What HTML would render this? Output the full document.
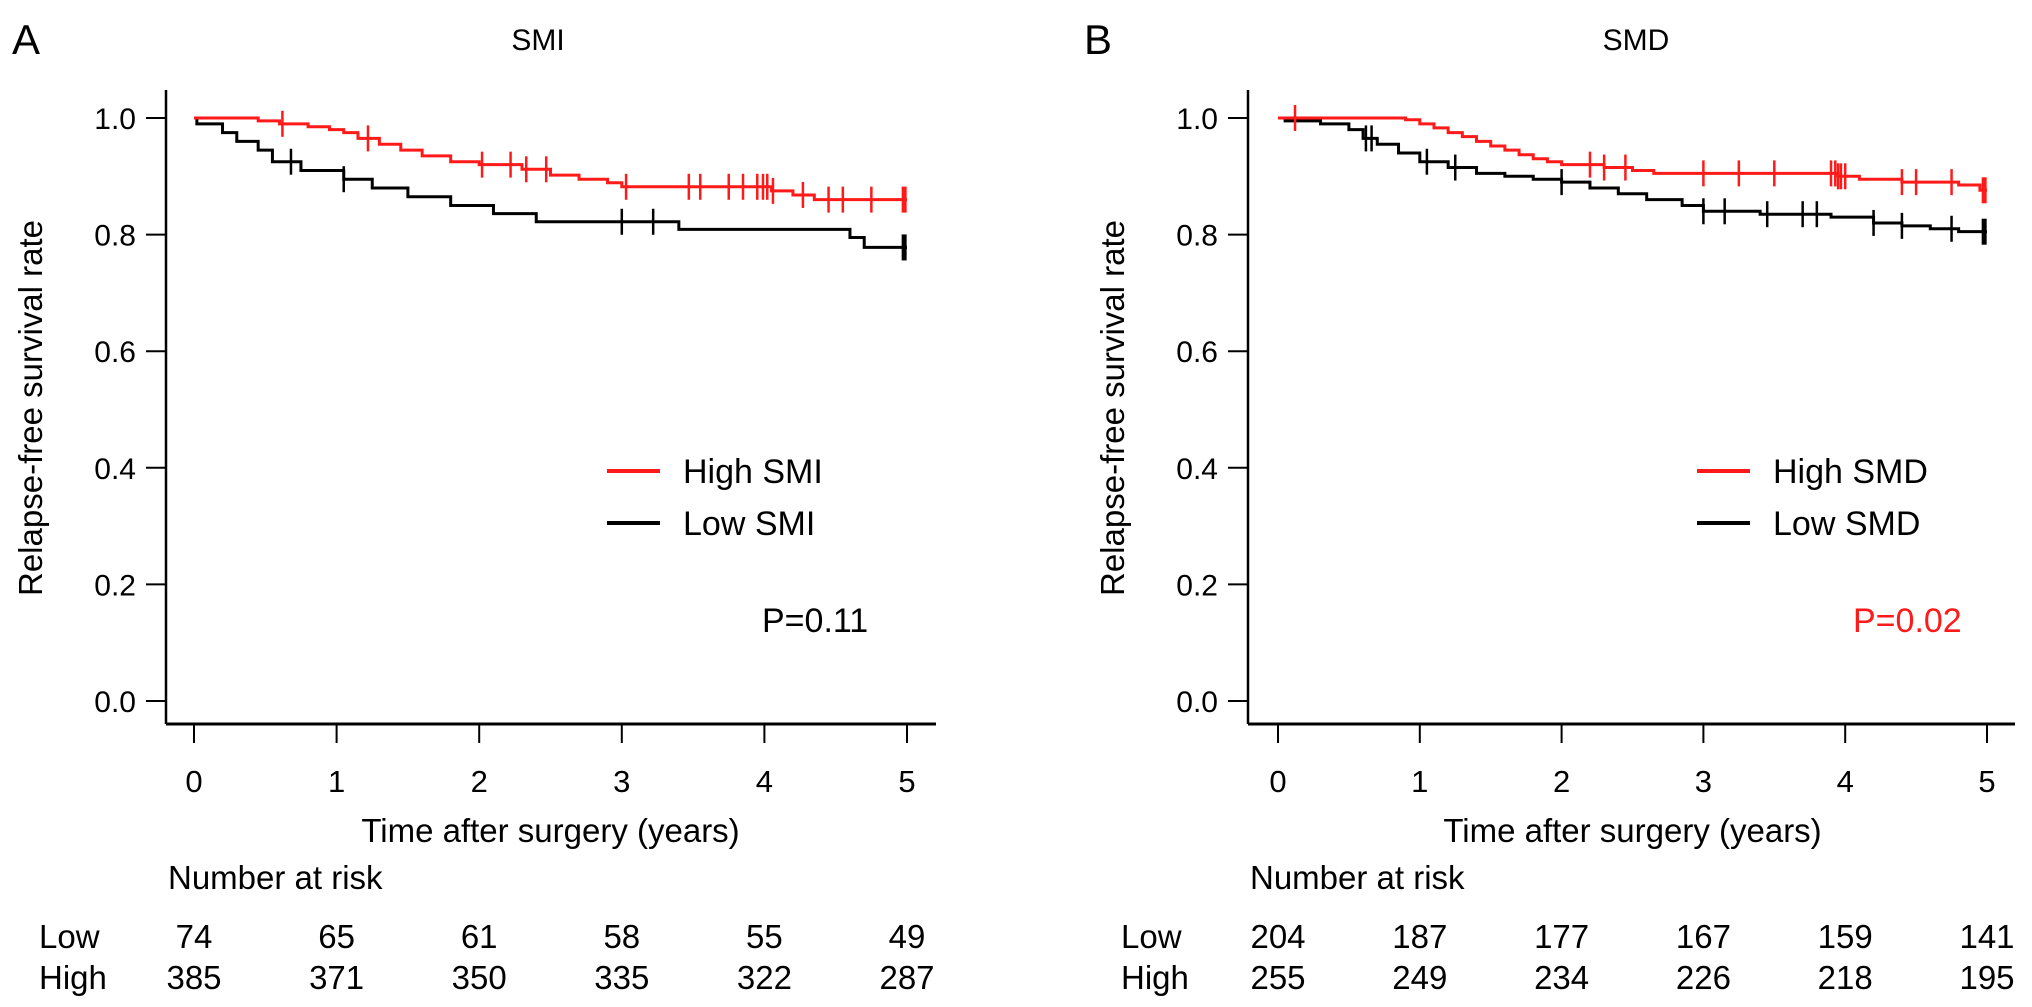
<!DOCTYPE html>
<html><head><meta charset="utf-8"><style>
html,body{margin:0;padding:0;background:#fff;}
svg{display:block;font-family:"Liberation Sans",Arial,sans-serif;}
</style></head><body>
<svg id="chart" width="2032" height="1007" viewBox="0 0 2032 1007" xmlns="http://www.w3.org/2000/svg"></svg>
<script>
// ---- data ----
const xTicks = [0,1,2,3,4,5];
const yTicks = [0.0,0.2,0.4,0.6,0.8,1.0];
// Panel A (SMI)
const aHighT = [0,0.45,0.6,0.8,0.95,1.05,1.15,1.3,1.45,1.6,1.8,2.0,2.3,2.5,2.7,2.9,3.0,4.05,4.2,4.35];
const aHighS = [1.0,0.995,0.99,0.985,0.98,0.975,0.965,0.955,0.945,0.935,0.925,0.92,0.912,0.902,0.895,0.889,0.882,0.875,0.868,0.86];
const aHighCens = [0.62,1.22,2.02,2.22,2.33,2.47,3.03,3.47,3.55,3.75,3.85,3.95,3.99,4.02,4.06,4.27,4.45,4.55,4.75,4.98];
const aLowT = [0,0.02,0.2,0.3,0.45,0.55,0.75,1.05,1.25,1.5,1.8,2.1,2.4,3.4,4.6,4.7];
const aLowS = [1.0,0.99,0.975,0.96,0.945,0.925,0.91,0.895,0.88,0.865,0.85,0.836,0.822,0.809,0.795,0.778];
const aLowCens = [0.68,1.05,3.0,3.22,4.98];
const aRiskLow = [74,65,61,58,55,49];
const aRiskHigh = [385,371,350,335,322,287];
// Panel B (SMD)
const bHighT = [0,0.9,1.0,1.1,1.2,1.3,1.4,1.5,1.6,1.7,1.8,1.9,2.0,2.3,2.5,2.65,3.95,4.1,4.4,4.8,4.95];
const bHighS = [1.0,0.997,0.99,0.983,0.975,0.968,0.96,0.952,0.945,0.937,0.93,0.925,0.92,0.915,0.91,0.905,0.9,0.895,0.89,0.885,0.876];
const bHighCens = [0.12,2.2,2.3,2.45,3.0,3.25,3.5,3.9,3.93,3.95,3.97,4.0,4.4,4.5,4.75,4.98];
const bLowT = [0,0.05,0.3,0.5,0.6,0.7,0.85,1.0,1.2,1.4,1.6,1.8,2.0,2.2,2.4,2.6,2.85,3.0,3.4,3.9,4.2,4.4,4.6,4.8];
const bLowS = [1.0,0.995,0.99,0.98,0.965,0.955,0.94,0.925,0.915,0.905,0.9,0.895,0.89,0.88,0.87,0.86,0.85,0.84,0.835,0.83,0.82,0.815,0.81,0.805];
const bLowCens = [0.62,0.66,1.05,1.25,2.0,3.0,3.15,3.45,3.7,3.8,4.2,4.4,4.75,4.98];
const bRiskLow = [204,187,177,167,159,141];
const bRiskHigh = [255,249,234,226,218,195];

const NS = "http://www.w3.org/2000/svg";
const svg = document.getElementById('chart');
function mk(tag, attrs, parent, text){
  const e = document.createElementNS(NS, tag);
  for (const k in attrs) e.setAttribute(k, attrs[k]);
  if (text !== undefined) e.textContent = text;
  (parent||svg).appendChild(e);
  return e;
}
function stepSurv(T,S,t){let s=S[0];for(let i=0;i<T.length;i++){if(T[i]<=t)s=S[i];}return s;}

function panel(cfg){
  const g = mk('g',{});
  
  
  const X = v => cfg.x0 + v*(cfg.x5-cfg.x0)/5;
  const Y = v => 701 - v*(701-118);
  const L = mk('text',{x:cfg.letterX,y:54,'font-size':42,fill:'#000'},g,cfg.letter);
   
  const T = mk('text',{x:cfg.titleX,y:50,'font-size':30,'text-anchor':'middle',fill:'#000'},g,cfg.title);
   
  const ya = mk('line',{x1:cfg.ax,y1:90,x2:cfg.ax,y2:724,stroke:'#000','stroke-width':2.5},g);
   
  const xa = mk('line',{x1:cfg.ax,y1:724,x2:cfg.axEnd,y2:724,stroke:'#000','stroke-width':3},g);
   
  yTicks.forEach(v=>{
    const tk = mk('line',{x1:cfg.ax-20,y1:Y(v),x2:cfg.ax,y2:Y(v),stroke:'#000','stroke-width':2},g);
     
    const tl = mk('text',{x:cfg.ax-30,y:Y(v)+11,'font-size':30,'text-anchor':'end',fill:'#000'},g,v.toFixed(1));
     
  });
  xTicks.forEach((v,i)=>{
    const tk = mk('line',{x1:X(v),y1:724,x2:X(v),y2:743,stroke:'#000','stroke-width':2},g);
     
    const tl = mk('text',{x:X(v),y:792,'font-size':31,'text-anchor':'middle',fill:'#000'},g,String(v));
     
    const rl = mk('text',{x:X(v),y:948,'font-size':33,'text-anchor':'middle',fill:'#000'},g,String(cfg.riskLow[i]));
     
    const rh = mk('text',{x:X(v),y:989,'font-size':33,'text-anchor':'middle',fill:'#000'},g,String(cfg.riskHigh[i]));
     
  });
  const xt = mk('text',{x:(X(0)+X(5))/2,y:842,'font-size':33,'text-anchor':'middle',fill:'#000'},g,'Time after surgery (years)');
   
  const yt = mk('text',{x:0,y:0,'font-size':33,'text-anchor':'middle',fill:'#000',transform:`translate(${cfg.ytX},408) rotate(-90)`},g,'Relapse-free survival rate');
   
  const nr = mk('text',{x:cfg.ax+2,y:889,'font-size':33,fill:'#000'},g,'Number at risk');
   
  const lo = mk('text',{x:cfg.rowX,y:948,'font-size':33,fill:'#000'},g,'Low');
   
  const hi = mk('text',{x:cfg.rowX,y:989,'font-size':33,fill:'#000'},g,'High');
   
  function curve(Tarr,Sarr,cens,color,name){
    let d = `M${X(0)},${Y(Sarr[0])}`;
    for(let i=1;i<Tarr.length;i++){ d += ` H${X(Tarr[i])} V${Y(Sarr[i])}`; }
    d += ` H${X(5)}`;
    const p = mk('path',{d:d,fill:'none',stroke:color,'stroke-width':3},g);
     
    cens.forEach(t=>{
      const yy = Y(stepSurv(Tarr,Sarr,t));
      const c = mk('line',{x1:X(t),y1:yy-13,x2:X(t),y2:yy+13,stroke:color,'stroke-width':t>4.95?5:2.5},g);
       
    });
  }
  curve(cfg.lowT,cfg.lowS,cfg.lowC,'#000','low');
  curve(cfg.highT,cfg.highS,cfg.highC,'#ff1a1a','high');
  const l1 = mk('line',{x1:cfg.legX,y1:471,x2:cfg.legX+53,y2:471,stroke:'#ff1a1a','stroke-width':4},g);
   
  const t1 = mk('text',{x:cfg.legX+76,y:483,'font-size':34,fill:'#000'},g,'High '+cfg.title);
   
  const l2 = mk('line',{x1:cfg.legX,y1:523,x2:cfg.legX+53,y2:523,stroke:'#000','stroke-width':4},g);
   
  const t2 = mk('text',{x:cfg.legX+76,y:535,'font-size':34,fill:'#000'},g,'Low '+cfg.title);
   
  const pv = mk('text',{x:cfg.pX,y:632,'font-size':34,fill:cfg.pColor},g,cfg.p);
   
}
panel({name:'panel-a-smi',letter:'A',letterX:12,title:'SMI',titleX:538,ax:166,axEnd:936,x0:194,x5:907,ytX:42,rowX:39,
  riskLow:aRiskLow,riskHigh:aRiskHigh,highT:aHighT,highS:aHighS,highC:aHighCens,lowT:aLowT,lowS:aLowS,lowC:aLowCens,
  legX:607,pX:762,p:'P=0.11',pColor:'#000'});
panel({name:'panel-b-smd',letter:'B',letterX:1084,title:'SMD',titleX:1636,ax:1248,axEnd:2015,x0:1278,x5:1987,ytX:1124,rowX:1121,
  riskLow:bRiskLow,riskHigh:bRiskHigh,highT:bHighT,highS:bHighS,highC:bHighCens,lowT:bLowT,lowS:bLowS,lowC:bLowCens,
  legX:1697,pX:1853,p:'P=0.02',pColor:'#ff1a1a'});
</script>
</body></html>
